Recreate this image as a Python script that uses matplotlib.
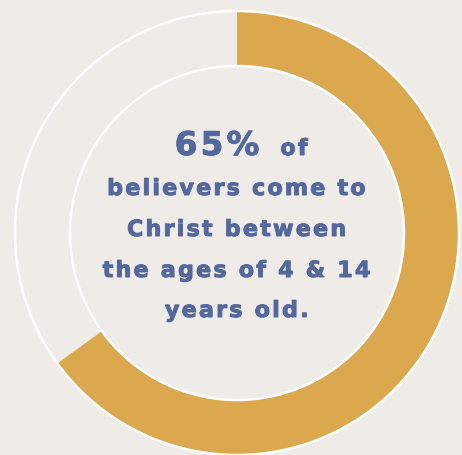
import matplotlib.pyplot as plt
import matplotlib.patheffects as pe
from matplotlib.patches import Circle

# data
shares = [65, 35]
headline = "65%"
lines = ["believers come to", "Christ between", "the ages of 4 & 14", "years old."]

bg = "#EFEBE7"
gold = "#DBA84D"
ink = "#5468A0"

W, H = 462, 455
cx, cy = 237, H - 233
r_out, r_in = 222, 167


def spaced(s):
    # letter spacing with hair spaces
    return "\u200a".join(s)


fig = plt.figure(figsize=(W / 100, H / 100), dpi=100, facecolor=bg)
ax = fig.add_axes([0, 0, 1, 1])
ax.set_facecolor(bg)

ax.pie(shares, colors=[gold, "none"], startangle=90, counterclock=False,
       radius=r_out, center=(cx, cy), frame=True,
       wedgeprops=dict(width=r_out - r_in, linewidth=0))

ax.add_patch(Circle((cx, cy), r_out, fill=False, ec="white", lw=1.8, zorder=3))
ax.add_patch(Circle((cx, cy), r_in, fill=False, ec="white", lw=1.8, zorder=3))

ax.set_xlim(0, W)
ax.set_ylim(0, H)
ax.set_aspect("equal")
ax.axis("off")

thick = [pe.withStroke(linewidth=0.7, foreground=ink)]
ax.text(217, H - 155, spaced(headline), color=ink, fontsize=23.5, fontweight="bold",
        ha="center", va="baseline", path_effects=thick)
ax.text(294, H - 155, spaced("of"), color=ink, fontsize=16, fontweight="bold",
        ha="center", va="baseline", path_effects=thick)
baselines = [195, 236, 277, 317]
for s, b in zip(lines, baselines):
    ax.text(cx, H - b, spaced(s), color=ink, fontsize=16, fontweight="bold",
            ha="center", va="baseline", path_effects=thick)

fig.savefig("out.png", dpi=100, facecolor=bg)
